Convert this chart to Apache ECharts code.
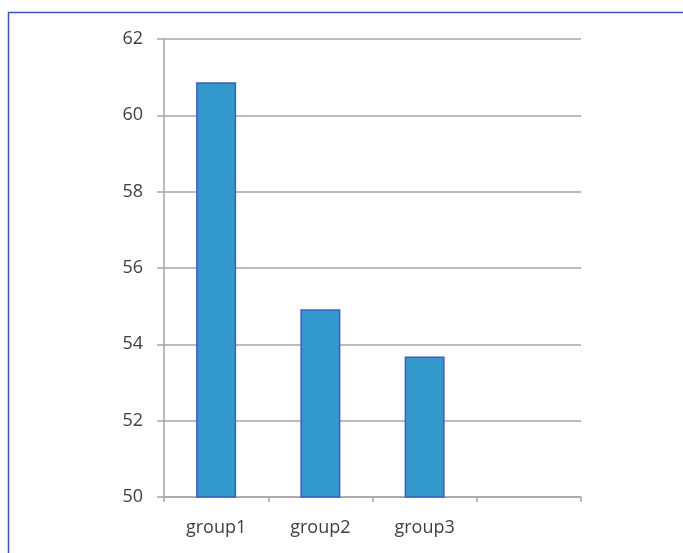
<!DOCTYPE html>
<html><head><meta charset="utf-8">
<script src="https://cdn.jsdelivr.net/npm/echarts@6/dist/echarts.min.js"></script>
<style>html,body{margin:0;padding:0;background:#fff}#c{width:683px;height:553px}</style>
</head><body><div id="c"></div>
<script>
var categories = ['group1', 'group2', 'group3', ''];
var values = [60.87, 54.92, 53.68, null];
var yTicks = {min: 50, max: 62, interval: 2};

var chart = echarts.init(document.getElementById('c'));
chart.setOption({
  animation: false,
  backgroundColor: '#fff',
  graphic: [{
    type: 'polyline',
    shape: {points: [[8.5, 553], [8.5, 12.5], [683, 12.5]]},
    style: {stroke: '#3a56b8', lineWidth: 1.5, fill: null},
    silent: true
  }],
  grid: {left: 164, right: 102, top: 39, bottom: 56},
  xAxis: {
    type: 'category',
    data: categories,
    axisLine: {lineStyle: {color: '#a6a6a6', width: 1.5}},
    axisTick: {show: true, length: 5, lineStyle: {color: '#a6a6a6', width: 1.5}},
    axisLabel: {color: '#404040', fontSize: 18, margin: 22, fontFamily: 'Open Sans'}
  },
  yAxis: {
    type: 'value',
    min: yTicks.min, max: yTicks.max, interval: yTicks.interval,
    axisLine: {show: true, lineStyle: {color: '#a6a6a6', width: 1.5}},
    axisTick: {show: true, length: 7, lineStyle: {color: '#a6a6a6', width: 1.5}},
    splitLine: {lineStyle: {color: '#a6a6a6', width: 1.5}},
    axisLabel: {color: '#404040', fontSize: 18, margin: 21, fontFamily: 'Open Sans'}
  },
  series: [{
    type: 'bar',
    data: values,
    barWidth: 40,
    itemStyle: {color: '#3399cc', borderColor: '#3a5fc0', borderWidth: 1.5}
  }]
});
</script></body></html>
